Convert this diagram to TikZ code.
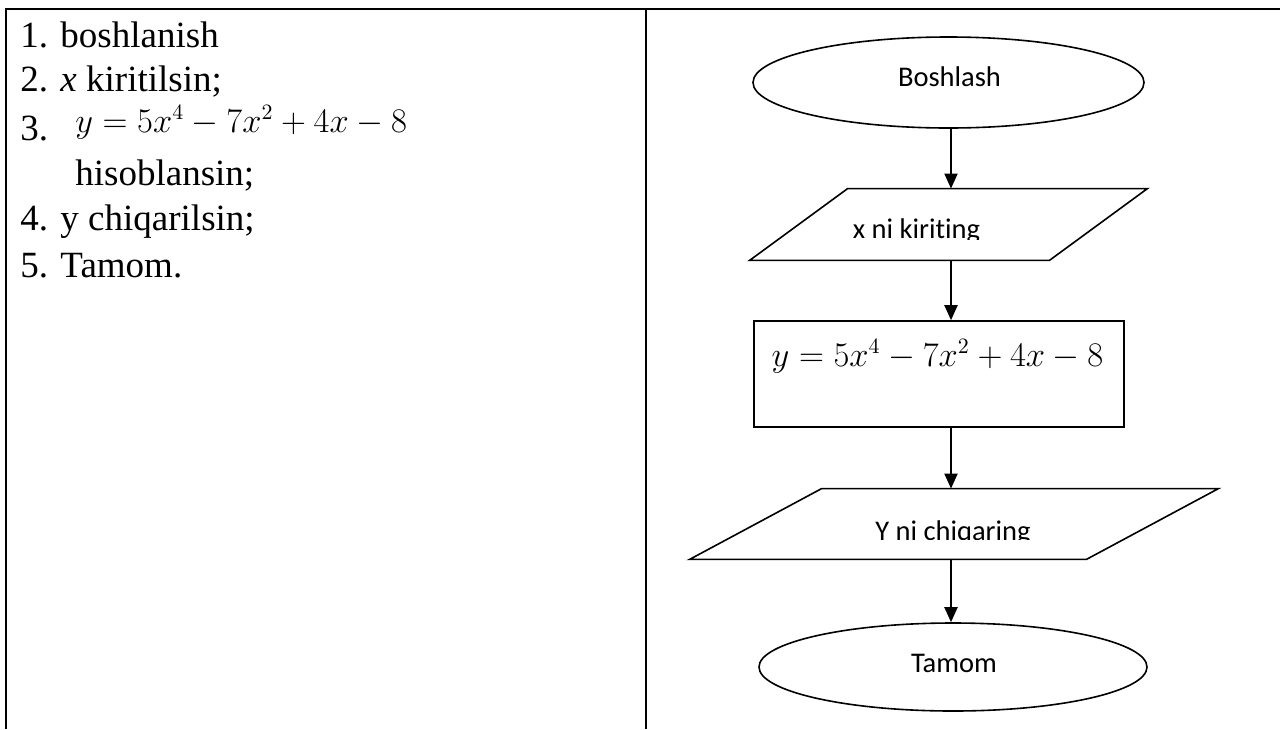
\documentclass[tikz,border=0pt]{standalone}
\usepackage{fontspec}
\setmainfont{Liberation Serif}
\newfontfamily\calfont{Carlito}[Ligatures=NoCommon]
\usetikzlibrary{arrows.meta,positioning,shapes.geometric}

\begin{document}
\begin{tikzpicture}[
  x=0.5pt, y=-0.5pt,
  termstate/.style={draw,ellipse,thick,inner sep=0pt},
  iostate/.style={rectangle,inner sep=0pt},
  slantedge/.style={thick,line join=miter},
  procstate/.style={draw,rectangle,thick,inner sep=0pt},
  flowtext/.style={font=\calfont\fontsize{14.25}{17}\selectfont,anchor=base,inner sep=0pt},
  algtext/.style={font=\fontsize{18.5}{22}\selectfont,anchor=base west,inner sep=0pt},
  formula/.style={font=\fontsize{16.3}{20}\selectfont,anchor=base west,inner sep=0pt},
  every edge/.style={draw,line width=1pt,-{Triangle[length=7.5pt,width=6.5pt]}},
]
  \useasboundingbox (0,0) rectangle (1280,729);

  % Table frame
  \draw[line width=1pt] (5,9) -- (1280,9);
  \draw[line width=1pt] (6,9) -- (6,729);
  \draw[line width=1pt] (646,9) -- (646,729);

  % Algorithm steps
  \node[algtext] (s1) at (20,47)  {1. boshlanish};
  \node[algtext] (s2) at (20,91)  {2. \textit{x} kiritilsin;};
  \node[algtext] (s3) at (20,140) {3.};
  \node[formula] (f1) at (75,132) {$y=5x^4-7x^2+4x-8$};
  \node[algtext] (s3b) at (75,185) {hisoblansin;};
  \node[algtext] (s4) at (20,230) {4. y chiqarilsin;};
  \node[algtext] (s5) at (20,277) {5. Tamom.};

  % Flowchart shapes
  \node[termstate,minimum width=195.5pt,minimum height=45.5pt] (start) at (948.5,82.5) {};
  \node[iostate,minimum width=149.5pt,minimum height=35.5pt] (input) at (948.5,224.5) {};
  \draw[slantedge] ([xshift=24.5pt]input.north west) -- ([xshift=24.5pt]input.north east)
    -- ([xshift=-24.5pt]input.south east) -- ([xshift=-24.5pt]input.south west) -- cycle;
  \node[procstate,minimum width=185pt,minimum height=53pt] (calc) at (939,374) {};
  \node[iostate,minimum width=198pt,minimum height=35pt] (output) at (954,524) {};
  \draw[slantedge] ([xshift=33pt]output.north west) -- ([xshift=33pt]output.north east)
    -- ([xshift=-33pt]output.south east) -- ([xshift=-33pt]output.south west) -- cycle;
  \node[termstate,minimum width=194pt,minimum height=44pt] (stop) at (953,667) {};

  % Texts
  \node[flowtext] (startlbl) at (949.5,86) {Boshlash};
  \begin{scope}
    \clip (820,200) rectangle (1020,239);
    \node[flowtext] (inlbl) at (916.5,238.5) {x ni kiriting};
  \end{scope}
  \node[formula,anchor=base] (f2) at (937.5,366) {$y=5x^4-7x^2+4x-8$};
  \begin{scope}
    \clip (850,500) rectangle (1060,539.5);
    \node[flowtext] (outlbl) at (953,540.5) {Y ni chiqaring};
  \end{scope}
  \node[flowtext] (stoplbl) at (954,672) {Tamom};

  % Arrows
  \coordinate (axis) at (951,0);
  \draw (start.south -| axis) edge (input.north -| axis);
  \draw (input.south -| axis) edge (calc.north -| axis);
  \draw (calc.south -| axis)  edge (output.north -| axis);
  \draw (output.south -| axis) edge (stop.north -| axis);
\end{tikzpicture}
\end{document}
